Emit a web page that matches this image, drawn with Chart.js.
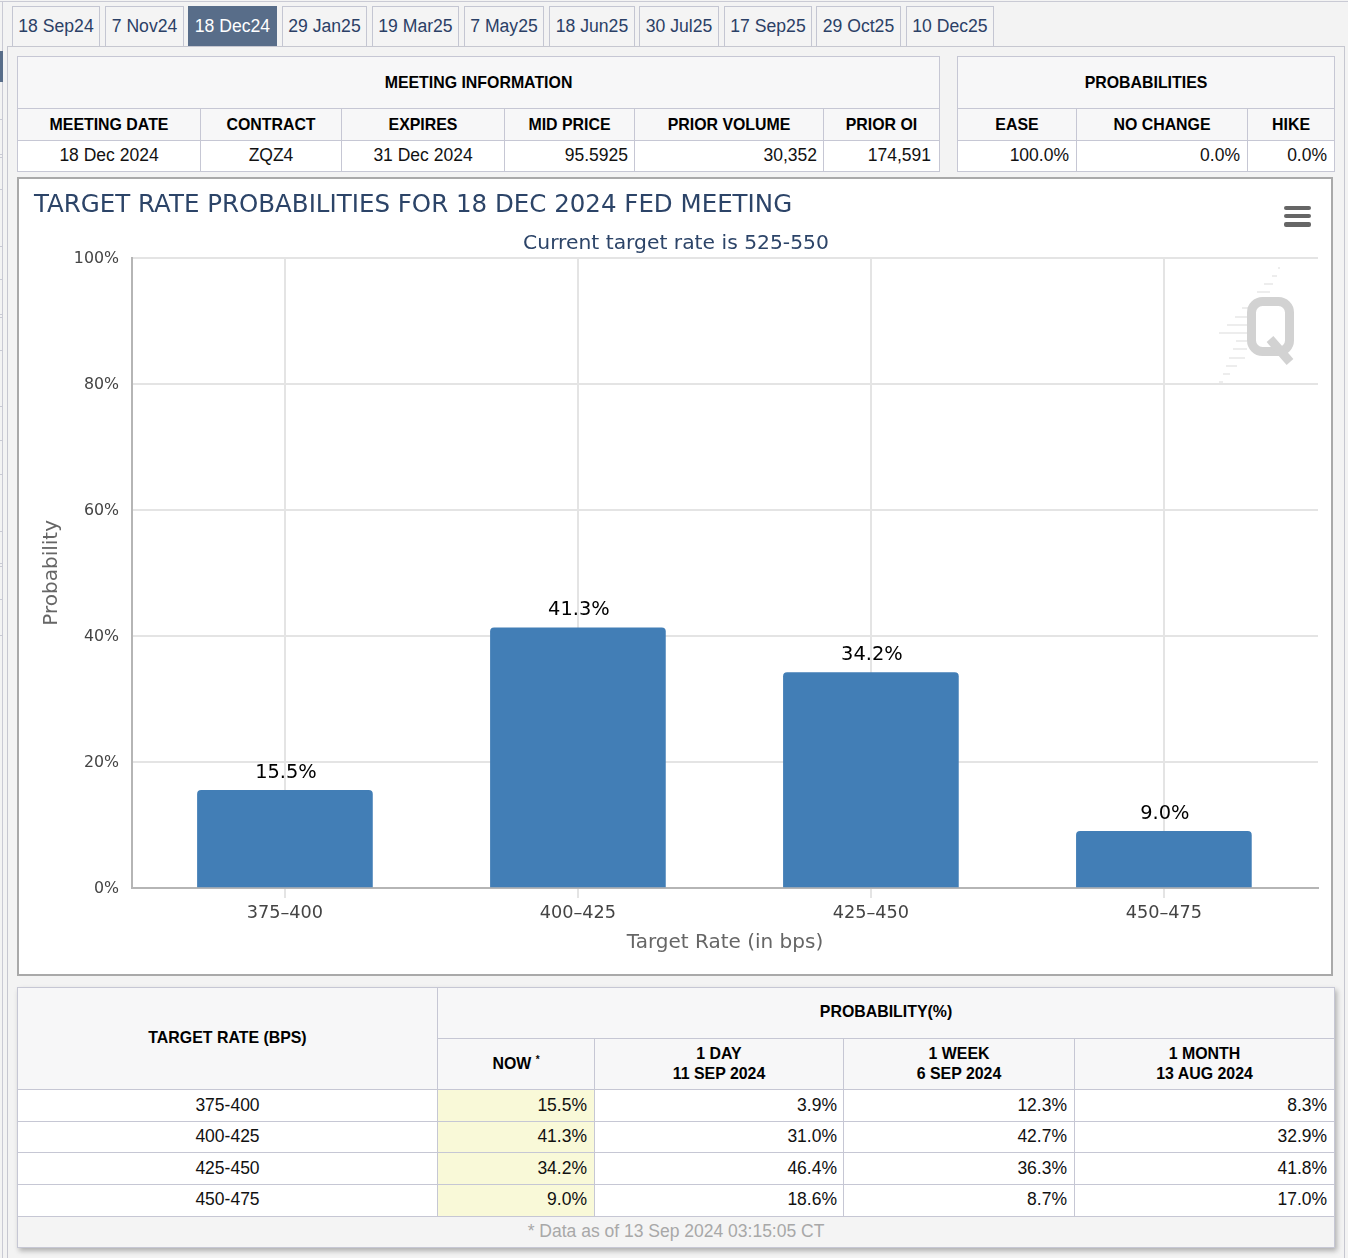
<!DOCTYPE html>
<html><head><meta charset="utf-8">
<script src="https://cdn.jsdelivr.net/npm/chart.js@4"></script>
<style>
html,body{margin:0;padding:0;width:1348px;height:1258px;overflow:hidden;background:#f3f3f3;font-family:"Liberation Sans",Arial,sans-serif;}
.abs{position:absolute;box-sizing:border-box;}
.tab{position:absolute;top:6px;height:40px;box-sizing:border-box;border:1px solid #c4c6d2;border-bottom:none;background:#f4f4f4;color:#2b4066;font-size:17.6px;line-height:39px;text-align:center;white-space:nowrap;}
.tab.on{background:#586d89;color:#fff;border-color:#586d89;}
table{position:absolute;border-collapse:collapse;table-layout:fixed;font-size:17.5px;color:#111;background:#fff;}
td,th{border:1px solid #c6c7d4;padding:0 6px;box-sizing:border-box;overflow:visible;white-space:nowrap;}
td{padding-bottom:1px;}
th{background:#f7f7f8;font-size:15.9px;font-weight:bold;color:#000;text-align:center;line-height:20px;}
th.u{padding-bottom:3px;} th.v{padding-bottom:2px;} th.b{padding-bottom:1px;}
td{text-align:right;} td.c{text-align:center;} td.y{background:#f9f9d8;}
td.r{padding-right:7px;} td.rr{padding-right:8px;} tr.l td{padding-bottom:2px;}
td.note{background:#f4f4f4;color:#a8a8a8;text-align:center;}
sup{font-size:10px;line-height:0;}
</style></head><body>
<div class="abs" style="left:0;top:1px;width:1348px;height:1px;background:#c9cad4"></div>
<div class="abs" style="left:2px;top:1px;width:1px;height:1257px;background:#c9cad4"></div>
<div id="marks"></div>
<div class="abs" style="left:0;top:51px;width:3px;height:31px;background:#586d89"></div>
<div class="abs" style="left:7px;top:46px;width:1338px;height:1230px;border:1px solid #c6c7d0;background:#f3f3f3"></div>
<div id="tabs"></div>
<div id="tables"></div>
<div class="abs" style="left:17px;top:177px;width:1316px;height:799px;border:2px solid #a9a9a9;background:#fff"></div>
<div class="abs" style="left:19px;top:179px;width:1312px;height:795px"><canvas id="c" width="1312" height="795" style="display:block;width:1312px;height:795px"></canvas></div>
<div class="abs" style="left:1284px;top:206px;width:27px;height:4px;border-radius:2px;background:#666"></div>
<div class="abs" style="left:1284px;top:214px;width:27px;height:4px;border-radius:2px;background:#666"></div>
<div class="abs" style="left:1284px;top:222px;width:27px;height:5px;border-radius:2px;background:#666"></div>
<script>
const tabLabels=["18 Sep24","7 Nov24","18 Dec24","29 Jan25","19 Mar25","7 May25","18 Jun25","30 Jul25","17 Sep25","29 Oct25","10 Dec25"];
const tabEdges=[[12,100],[105,184],[188,277],[282,367],[372,459],[464,544],[549,635],[639,719],[724,812],[816,901],[906,994]];
const activeTab=2;
const categories=["375-400","400-425","425-450","450-475"];
const axisLabels=["375–400","400–425","425–450","450–475"];
const nowValues=[15.5,41.3,34.2,9.0];
const dayValues=[3.9,31.0,46.4,18.6];
const weekValues=[12.3,42.7,36.3,8.7];
const monthValues=[8.3,32.9,41.8,17.0];
const yTicks=[0,20,40,60,80,100];
const chartTitle="TARGET RATE PROBABILITIES FOR 18 DEC 2024 FED MEETING";
const chartSubtitle="Current target rate is 525-550";
const meetingHeads=["MEETING DATE","CONTRACT","EXPIRES","MID PRICE","PRIOR VOLUME","PRIOR OI"];
const meetingRow=["18 Dec 2024","ZQZ4","31 Dec 2024","95.5925","30,352","174,591"];
const probHeads=["EASE","NO CHANGE","HIKE"];
const probRow=["100.0%","0.0%","0.0%"];
const pct=v=>v.toFixed(1)+"%";

document.getElementById('marks').innerHTML=[119,154,157,189,246,279,314,317,350,406,440,474,531,563,566,599,635]
 .map(y=>`<div class="abs" style="left:0;top:${y}px;width:3px;height:1px;background:#c9cad4"></div>`).join('');
document.getElementById('tabs').innerHTML=tabLabels.map((t,i)=>`<div class="tab${i===activeTab?' on':''}" style="left:${tabEdges[i][0]}px;width:${tabEdges[i][1]-tabEdges[i][0]}px">${t}</div>`).join('');
const cg=w=>'<colgroup>'+w.map(x=>`<col style="width:${x}px">`).join('')+'</colgroup>';
let h='';
h+=`<table style="left:17px;top:56px;width:922px">${cg([183,141,163,130,189,116])}
<tr style="height:52px"><th colspan="6">MEETING INFORMATION</th></tr>
<tr style="height:32px">${meetingHeads.map(x=>`<th>${x}</th>`).join('')}</tr>
<tr style="height:31px">${meetingRow.map((x,i)=>`<td class="${i<3?'c':(i===5?'rr':'')}">${x}</td>`).join('')}</tr></table>`;
h+=`<table style="left:957px;top:56px;width:377px">${cg([119,171,87])}
<tr style="height:52px"><th colspan="3">PROBABILITIES</th></tr>
<tr style="height:32px">${probHeads.map(x=>`<th>${x}</th>`).join('')}</tr>
<tr style="height:31px">${probRow.map(x=>`<td class="r">${x}</td>`).join('')}</tr></table>`;
h+=`<table style="left:17px;top:987px;width:1317px;box-shadow:2px 3px 5px rgba(0,0,0,.28)">${cg([420,157,249,231,260])}
<tr style="height:51px"><th class="v" rowspan="2">TARGET RATE (BPS)</th><th class="u" colspan="4">PROBABILITY(%)</th></tr>
<tr style="height:51px"><th class="b">NOW <sup>*</sup></th><th class="b">1 DAY<br>11 SEP 2024</th><th class="b">1 WEEK<br>6 SEP 2024</th><th class="b">1 MONTH<br>13 AUG 2024</th></tr>
${categories.map((c,i)=>`<tr class="${i===3?'l':''}" style="height:${[32,31,32,32][i]}px"><td class="c">${c}</td><td class="y r">${pct(nowValues[i])}</td><td>${pct(dayValues[i])}</td><td class="r">${pct(weekValues[i])}</td><td class="r">${pct(monthValues[i])}</td></tr>`).join('')}
<tr style="height:31px"><td class="note" colspan="5">* Data as of 13 Sep 2024 03:15:05 CT</td></tr></table>`;
document.getElementById('tables').innerHTML=h;

const FONT='"DejaVu Sans"';
const watermark={id:'watermark',beforeDatasetsDraw(ch){
  const c=ch.ctx,ox=19,oy=179;c.save();c.translate(-ox,-oy);
  c.fillStyle='#ededed';
  [[1278,1280,267],[1272,1277,275],[1264,1273,283],[1257,1270,291],[1242,1248,307],[1235,1247,316],[1227,1247,324],[1219,1247,332],[1236,1247,340],[1233,1247,348],[1229,1245,357],[1226,1237,365],[1223,1230,373],[1219,1223,381]]
   .forEach(d=>c.fillRect(d[0],d[2],d[1]-d[0],2));
  c.strokeStyle='#d2d2d2';c.lineWidth=9;c.beginPath();c.roundRect(1251.5,301.5,38,50,11);c.stroke();
  c.lineWidth=9;c.beginPath();c.moveTo(1270,339);c.lineTo(1290,362);c.stroke();
  c.restore();}};
const barLabels={id:'barLabels',afterDatasetsDraw(ch){
  const c=ch.ctx,m=ch.getDatasetMeta(0);c.save();
  c.font='19.4px '+FONT;c.fillStyle='#000';c.textAlign='center';c.textBaseline='bottom';
  m.data.forEach((b,i)=>c.fillText(pct(nowValues[i]),b.x+1,b.y-8));c.restore();}};
new Chart(document.getElementById('c'),{
  type:'bar',
  data:{datasets:[{data:nowValues.map((v,i)=>({x:i,y:v})),backgroundColor:'#427eb6',barThickness:175,borderRadius:{topLeft:4,topRight:4},borderSkipped:'bottom'}]},
  plugins:[watermark,barLabels],
  options:{responsive:false,animation:false,devicePixelRatio:1,
    layout:{padding:{left:15,right:13,top:12,bottom:19}},
    plugins:{legend:{display:false},tooltip:{enabled:false},
      title:{display:true,text:chartTitle,align:'start',color:'#2c4468',font:{family:FONT,size:24.5,weight:'normal'},padding:{top:0,bottom:9}},
      subtitle:{display:true,text:chartSubtitle,align:'center',color:'#2c4468',font:{family:FONT,size:20.3,weight:'normal'},padding:{top:2,bottom:2}}},
    scales:{
      x:{type:'linear',offset:false,min:-0.522,max:3.526,
        afterBuildTicks(s){s.ticks=categories.map((_,i)=>({value:i}));},
        afterFit(s){s.height=67;},
        ticks:{autoSkip:false,maxRotation:0,padding:5,color:'#444',font:{family:FONT,size:17.7},callback:(v)=>axisLabels[v]},
        grid:{offset:false,color:'#e4e4e4',lineWidth:2,tickLength:10,drawTicks:true},
        border:{color:'#b5b5b5',width:2},
        title:{display:true,text:'Target Rate (in bps)',color:'#666',font:{family:FONT,size:20},padding:{top:4,bottom:0}}},
      y:{min:0,max:100,
        afterBuildTicks(s){s.ticks=yTicks.map(v=>({value:v}));},
        afterFit(s){s.width=98;},
        ticks:{padding:13,labelOffset:1,color:'#444',font:{family:FONT,size:15.8},callback:v=>v+'%'},
        grid:{color:'#e4e4e4',lineWidth:2,drawTicks:false},
        border:{color:'#b5b5b5',width:2},
        title:{display:true,text:'Probability',color:'#666',font:{family:FONT,size:20},padding:{top:6,bottom:0}}}
    }}
});
</script>
</body></html>
